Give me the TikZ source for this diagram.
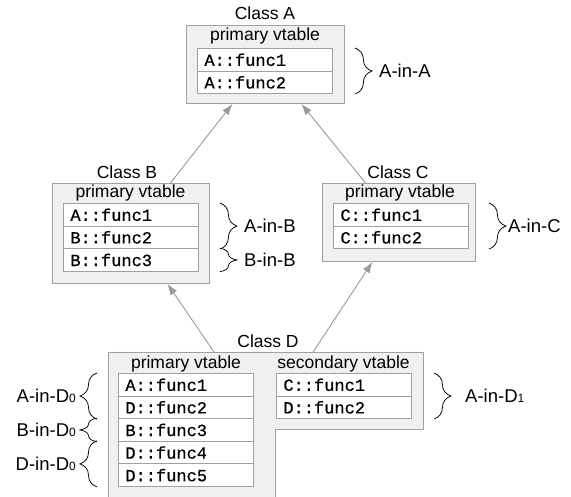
\documentclass[tikz,border=0pt]{standalone}
\usepackage{fontspec}
\setmainfont{Liberation Sans}
\setmonofont[FakeBold=0.6]{Liberation Mono}
\usetikzlibrary{arrows.meta,decorations.pathreplacing}
\definecolor{boxfill}{HTML}{F0F0F0}
\definecolor{boxline}{HTML}{A0A0A0}
\definecolor{arrcol}{HTML}{999999}
\tikzset{
  cbox/.style={draw=boxline, fill=boxfill, line width=0.9pt, anchor=north west, inner sep=0pt},
  row/.style={draw=boxline, fill=white, line width=0.9pt, anchor=north west, minimum width=135pt, minimum height=22.6pt, text width=121pt, inner xsep=7pt, inner ysep=0pt, align=left, font=\fontsize{17}{17}\selectfont\ttfamily},
  title/.style={font=\fontsize{17.5}{17.5}\selectfont, inner sep=0pt},
  lab/.style={font=\fontsize{18.5}{18.5}\selectfont, inner sep=0pt},
  arr/.style={draw=arrcol, line width=0.9pt, -{Latex[length=11pt,width=8pt]}},
  brc/.style={draw=black, line width=0.75pt, decorate, decoration={brace, amplitude=17pt}},
}
\newcommand{\sub}[1]{{\fontsize{12}{12}\selectfont #1}}
\begin{document}
\begin{tikzpicture}[x=1pt,y=-1pt]
\useasboundingbox (0,0) rectangle (571,497);
\begin{scope}
\clip (0,0) rectangle (571,497);
% Class A
\node[cbox, minimum width=158pt, minimum height=78pt] (A) at (186,25) {};
\node[title] (tA) at (265,13) {Class A};
\node[title] (pA) at (265,36) {primary vtable};
\node[row] (a1) at (197,48) {A::func1};
\node[row] (a2) at (197,70.6) {A::func2};
% Class B
\node[cbox, minimum width=157pt, minimum height=100pt] (B) at (52,183) {};
\node[title] (tB) at (127,172) {Class B};
\node[title] (pB) at (130.5,193) {primary vtable};
\node[row] (b1) at (63,203) {A::func1};
\node[row] (b2) at (63,225.6) {B::func2};
\node[row] (b3) at (63,248.2) {B::func3};
% Class C
\node[cbox, minimum width=153pt, minimum height=78pt] (C) at (322,183) {};
\node[title] (tC) at (398,172) {Class C};
\node[title] (pC) at (400,193) {primary vtable};
\node[row] (c1) at (333,203) {C::func1};
\node[row] (c2) at (333,225.6) {C::func2};
% Class D
\draw[draw=boxline, fill=boxfill, line width=0.9pt] (108,352) -- (423,352) -- (423,429) -- (275,429) -- (275,520) -- (108,520) -- cycle;
\coordinate (Dtop) at (265,352);
\node[title] (tD) at (268,341) {Class D};
\node[title] (pD) at (186,364) {primary vtable};
\node[title] (sD) at (343.5,364) {secondary vtable};
\node[row] (d1) at (118,373) {A::func1};
\node[row] (d2) at (118,395.6) {D::func2};
\node[row] (d3) at (118,418.2) {B::func3};
\node[row] (d4) at (118,440.8) {D::func4};
\node[row] (d5) at (118,463.4) {D::func5};
\node[row] (e1) at (276,373) {C::func1};
\node[row] (e2) at (276,395.6) {D::func2};
\end{scope}
% arrows
\draw[arr] ([xshift=39.5pt]B.north) -- ([xshift=-33pt]A.south);
\draw[arr] ([xshift=-33.5pt]C.north) -- ([xshift=36pt]A.south);
\draw[arr] ([xshift=-51pt]Dtop) -- ([xshift=36.5pt]B.south);
\draw[arr] ([xshift=48pt]Dtop) -- ([xshift=-26.5pt]C.south);
% braces
\draw[brc] ([xshift=22pt]a1.north east) -- ([xshift=22pt]a2.south east);
\node[lab, anchor=west] (lA) at (379,70.6) {A-in-A};
\draw[brc] ([xshift=21pt]b1.north east) -- ([xshift=21pt]b2.south east);
\node[lab, anchor=west] (lAB) at (244,225.6) {A-in-B};
\draw[brc] ([xshift=21pt]b3.north east) -- ([xshift=21pt]b3.south east);
\node[lab, anchor=west] (lBB) at (244,259.5) {B-in-B};
\draw[brc] ([xshift=20pt]c1.north east) -- ([xshift=20pt]c2.south east);
\node[lab, anchor=west] (lAC) at (508,225.6) {A-in-C};
\draw[brc] ([xshift=22pt]e1.north east) -- ([xshift=22pt]e2.south east);
\node[lab, anchor=west] (lAD1) at (465,395.6) {A-in-D\sub{1}};
\draw[brc] ([xshift=-21pt]d2.south west) -- ([xshift=-21pt]d1.north west);
\node[lab, anchor=east] (lAD0) at (76,395.6) {A-in-D\sub{0}};
\draw[brc] ([xshift=-21pt]d3.south west) -- ([xshift=-21pt]d3.north west);
\node[lab, anchor=east] (lBD0) at (76,429.5) {B-in-D\sub{0}};
\draw[brc] ([xshift=-21pt]d5.south west) -- ([xshift=-21pt]d4.north west);
\node[lab, anchor=east] (lDD0) at (76,463.4) {D-in-D\sub{0}};
\end{tikzpicture}
\end{document}
